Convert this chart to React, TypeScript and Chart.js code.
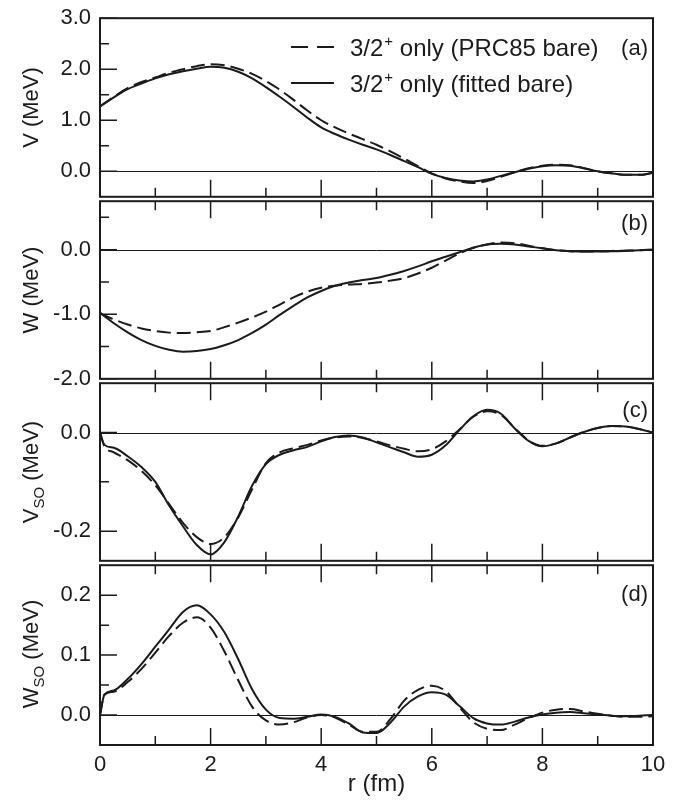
import React, { useEffect, useRef } from 'react';
import { Chart, registerables } from 'chart.js';

Chart.register(...registerables);

// ---------------- data ----------------
const R = [0, 0.08, 0.25, 0.5, 0.75, 1, 1.25, 1.5, 1.75, 2, 2.25, 2.5, 2.75, 3, 3.25, 3.5, 3.75, 4, 4.25, 4.5, 4.75, 5, 5.25, 5.5, 5.75, 6, 6.25, 6.5, 6.75, 7, 7.25, 7.5, 7.75, 8, 8.25, 8.5, 8.75, 9, 9.25, 9.5, 9.75, 10];

// (a) V
const V_PRC85 = [1.27, 1.33, 1.46, 1.63, 1.75, 1.84, 1.93, 2.0, 2.06, 2.1, 2.08, 2.01, 1.91, 1.77, 1.6, 1.4, 1.19, 1.0, 0.86, 0.74, 0.63, 0.52, 0.39, 0.25, 0.1, -0.04, -0.14, -0.2, -0.23, -0.19, -0.11, -0.02, 0.06, 0.11, 0.13, 0.12, 0.06, 0.0, -0.04, -0.07, -0.07, -0.03];
const V_FITTED = [1.27, 1.33, 1.45, 1.61, 1.72, 1.82, 1.9, 1.96, 2.01, 2.05, 2.03, 1.95, 1.82, 1.65, 1.46, 1.26, 1.05, 0.86, 0.73, 0.62, 0.52, 0.43, 0.32, 0.2, 0.08, -0.05, -0.13, -0.18, -0.2, -0.16, -0.09, -0.02, 0.05, 0.1, 0.12, 0.11, 0.06, 0.0, -0.04, -0.07, -0.07, -0.03];

// (b) W
const W_PRC85 = [-0.98, -1.02, -1.08, -1.16, -1.22, -1.26, -1.285, -1.29, -1.28, -1.26, -1.2, -1.13, -1.05, -0.96, -0.85, -0.74, -0.65, -0.59, -0.56, -0.54, -0.53, -0.51, -0.48, -0.44, -0.37, -0.28, -0.17, -0.06, 0.03, 0.08, 0.11, 0.1, 0.06, 0.02, -0.01, -0.025, -0.03, -0.025, -0.02, -0.015, -0.01, 0.0];
const W_FITTED = [-0.98, -1.03, -1.14, -1.28, -1.4, -1.49, -1.55, -1.58, -1.57, -1.54, -1.48, -1.4, -1.29, -1.16, -1.01, -0.87, -0.74, -0.64, -0.56, -0.51, -0.47, -0.44, -0.39, -0.33, -0.26, -0.18, -0.11, -0.04, 0.03, 0.08, 0.09, 0.08, 0.05, 0.02, -0.01, -0.025, -0.03, -0.03, -0.025, -0.02, -0.01, 0.0];

// (c) V_SO
const VSO_PRC85 = [0.0, -0.028, -0.04, -0.056, -0.078, -0.107, -0.145, -0.183, -0.212, -0.226, -0.212, -0.172, -0.115, -0.062, -0.04, -0.032, -0.025, -0.016, -0.01, -0.008, -0.011, -0.018, -0.026, -0.033, -0.038, -0.034, -0.018, 0.006, 0.032, 0.043, 0.036, 0.009, -0.016, -0.027, -0.022, -0.01, 0.001, 0.009, 0.013, 0.012, 0.007, 0.0];
const VSO_FITTED = [0.0, -0.025, -0.031, -0.048, -0.07, -0.1, -0.148, -0.19, -0.228, -0.247, -0.222, -0.17, -0.108, -0.064, -0.045, -0.036, -0.029, -0.018, -0.009, -0.006, -0.01, -0.02, -0.03, -0.04, -0.049, -0.045, -0.026, 0.005, 0.033, 0.046, 0.038, 0.008, -0.017, -0.028, -0.022, -0.01, 0.001, 0.009, 0.013, 0.012, 0.007, 0.0];

// (d) W_SO
const WSO_PRC85 = [0.0, 0.034, 0.039, 0.055, 0.077, 0.104, 0.132, 0.154, 0.163, 0.146, 0.106, 0.058, 0.014, -0.009, -0.016, -0.012, -0.004, 0.0, -0.004, -0.016, -0.028, -0.028, -0.007, 0.024, 0.042, 0.049, 0.04, 0.013, -0.012, -0.023, -0.025, -0.016, -0.005, 0.004, 0.009, 0.01, 0.006, 0.002, -0.001, -0.003, -0.003, -0.002];
const WSO_FITTED = [0.0, 0.034, 0.041, 0.06, 0.085, 0.114, 0.143, 0.172, 0.183, 0.168, 0.138, 0.093, 0.043, 0.009, -0.005, -0.006, -0.003, 0.001, -0.003, -0.014, -0.029, -0.03, -0.013, 0.014, 0.031, 0.038, 0.034, 0.015, -0.005, -0.014, -0.016, -0.011, -0.004, 0.001, 0.004, 0.005, 0.003, 0.001, -0.001, -0.002, -0.001, 0.0];

// ticks
const X_MAJOR = [0, 2, 4, 6, 8, 10];
const X_MINOR = [1, 3, 5, 7, 9];
const X_LABELS = ['0', '2', '4', '6', '8', '10'];

const V_MAJOR = [0, 1, 2, 3];
const V_MINOR = [0.5, 1.5, 2.5];
const V_LABELS = ['0.0', '1.0', '2.0', '3.0'];

const W_MAJOR = [-2, -1, 0];
const W_MINOR = [-1.5, -0.5, 0.5];
const W_LABELS = ['-2.0', '-1.0', '0.0'];

const VSO_MAJOR = [-0.2, 0];
const VSO_MINOR = [-0.1];
const VSO_LABELS = ['-0.2', '0.0'];

const WSO_MAJOR = [0, 0.1, 0.2];
const WSO_MINOR = [0.05, 0.15];
const WSO_LABELS = ['0.0', '0.1', '0.2'];

// legend text
const SERIES_PREFIX = '3/2';
const SERIES_SUP = '+';
const SERIES_NAMES = [' only (PRC85 bare)', ' only (fitted bare)'];
const X_TITLE = 'r (fm)';

// ---------------- style / layout ----------------
const INK = '#1b1b1b';
const FONT = '"Liberation Sans", Arial, Helvetica, sans-serif';
const FS = 22;
const LEG_FS = 24;
const XT_FS = 24;
const SUB_FS = 15;
const W = 691;
const H = 806;
const PLOT_LEFT = 100;
const PLOT_RIGHT = 653;
const PAD = 20;
const DASH = [14, 6];

type Part = { t: string; s: number; dy: number };

const PANELS = [
  { tag: '(a)', top: 16, bottom: 199, yMin: -0.5, yMax: 3.0, major: V_MAJOR, minor: V_MINOR, labels: V_LABELS,
    title: [{ t: 'V (MeV)', s: FS, dy: 0 }] as Part[], dashed: V_PRC85, solid: V_FITTED, topTicks: false, legend: true, tagY: 47, last: false },
  { tag: '(b)', top: 199, bottom: 381, yMin: -2.0, yMax: 0.75, major: W_MAJOR, minor: W_MINOR, labels: W_LABELS,
    title: [{ t: 'W (MeV)', s: FS, dy: 0 }] as Part[], dashed: W_PRC85, solid: W_FITTED, topTicks: true, legend: false, tagY: 222, last: false },
  { tag: '(c)', top: 381, bottom: 563, yMin: -0.26, yMax: 0.1, major: VSO_MAJOR, minor: VSO_MINOR, labels: VSO_LABELS,
    title: [{ t: 'V', s: FS, dy: 0 }, { t: 'SO', s: SUB_FS, dy: 6 }, { t: ' (MeV)', s: FS, dy: 0 }] as Part[], dashed: VSO_PRC85, solid: VSO_FITTED, topTicks: true, legend: false, tagY: 409, last: false },
  { tag: '(d)', top: 563, bottom: 745, yMin: -0.05, yMax: 0.25, major: WSO_MAJOR, minor: WSO_MINOR, labels: WSO_LABELS,
    title: [{ t: 'W', s: FS, dy: 0 }, { t: 'SO', s: SUB_FS, dy: 6 }, { t: ' (MeV)', s: FS, dy: 0 }] as Part[], dashed: WSO_PRC85, solid: WSO_FITTED, topTicks: true, legend: false, tagY: 593, last: true },
];

function drawParts(ctx: CanvasRenderingContext2D, parts: Part[], cx: number, cy: number) {
  ctx.textBaseline = 'alphabetic';
  ctx.textAlign = 'left';
  let total = 0;
  for (const p of parts) {
    ctx.font = `${p.s}px ${FONT}`;
    total += ctx.measureText(p.t).width;
  }
  let x = cx - total / 2;
  const base = cy + FS * 0.36;
  for (const p of parts) {
    ctx.font = `${p.s}px ${FONT}`;
    ctx.fillText(p.t, x, base + p.dy);
    x += ctx.measureText(p.t).width;
  }
}

function makePlugin(panel: any, canvasTop: number) {
  return {
    id: 'frame',
    beforeDatasetsDraw(chart: any) {
      const { ctx, chartArea } = chart;
      const ys = chart.scales.y;
      const py = Math.round(ys.getPixelForValue(0)) + 0.5;
      ctx.save();
      ctx.strokeStyle = INK;
      ctx.lineWidth = 1;
      ctx.beginPath();
      ctx.moveTo(chartArea.left, py);
      ctx.lineTo(chartArea.right, py);
      ctx.stroke();
      ctx.restore();
    },
    afterDatasetsDraw(chart: any) {
      const { ctx, chartArea } = chart;
      const { left, right, top, bottom } = chartArea;
      const xs = chart.scales.x;
      const ys = chart.scales.y;
      ctx.save();
      ctx.strokeStyle = INK;
      ctx.fillStyle = INK;
      ctx.lineWidth = 1.5;
      ctx.setLineDash([]);
      ctx.beginPath();
      for (const v of panel.major) {
        const p = ys.getPixelForValue(v);
        ctx.moveTo(left, p); ctx.lineTo(left + 17, p);
      }
      for (const v of panel.minor) {
        const p = ys.getPixelForValue(v);
        ctx.moveTo(left, p); ctx.lineTo(left + 9, p);
      }
      for (const v of X_MAJOR) {
        const p = xs.getPixelForValue(v);
        ctx.moveTo(p, bottom); ctx.lineTo(p, bottom - 17);
        if (panel.topTicks) { ctx.moveTo(p, top); ctx.lineTo(p, top + 17); }
      }
      for (const v of X_MINOR) {
        const p = xs.getPixelForValue(v);
        ctx.moveTo(p, bottom); ctx.lineTo(p, bottom - 9);
        if (panel.topTicks) { ctx.moveTo(p, top); ctx.lineTo(p, top + 9); }
      }
      ctx.stroke();
      ctx.lineWidth = 2;
      ctx.strokeRect(left, top, right - left, bottom - top);

      // y title, rotated
      ctx.save();
      ctx.translate(30, (panel.top + panel.bottom) / 2 - canvasTop);
      ctx.rotate(-Math.PI / 2);
      drawParts(ctx, panel.title, 0, 0);
      ctx.restore();

      // panel tag
      ctx.font = `${FS}px ${FONT}`;
      ctx.textAlign = 'right';
      ctx.textBaseline = 'alphabetic';
      ctx.fillText(panel.tag, 648, panel.tagY - canvasTop + FS * 0.36);

      // legend
      if (panel.legend) {
        const rows = [47, 83];
        rows.forEach((ry, i) => {
          const y = ry - canvasTop;
          ctx.lineWidth = 2;
          ctx.setLineDash(i === 0 ? [17, 9] : []);
          ctx.beginPath();
          ctx.moveTo(291, y); ctx.lineTo(334, y);
          ctx.stroke();
          ctx.setLineDash([]);
          ctx.textAlign = 'left';
          ctx.textBaseline = 'alphabetic';
          let x = 350;
          const base = y + LEG_FS * 0.36;
          ctx.font = `${LEG_FS}px ${FONT}`;
          ctx.fillText(SERIES_PREFIX, x, base);
          x += ctx.measureText(SERIES_PREFIX).width + 1;
          ctx.font = `${SUB_FS}px ${FONT}`;
          ctx.fillText(SERIES_SUP, x, base - 10);
          x += ctx.measureText(SERIES_SUP).width;
          ctx.font = `${LEG_FS}px ${FONT}`;
          ctx.fillText(SERIES_NAMES[i], x, base);
        });
      }
      ctx.restore();
    },
  };
}

function PanelChart({ panel }: { panel: any }) {
  const ref = useRef<HTMLCanvasElement | null>(null);
  const canvasTop = panel.top - PAD;
  const height = panel.last ? H - canvasTop : panel.bottom - panel.top + 2 * PAD;

  useEffect(() => {
    const canvas = ref.current;
    if (!canvas) return;
    const mk = (vals: number[]) => R.map((r, i) => ({ x: r, y: vals[i] }));
    const chart = new Chart(canvas, {
      type: 'line',
      data: {
        datasets: [
          { label: 'PRC85', data: mk(panel.dashed), borderColor: INK, borderWidth: 2, borderDash: DASH, pointRadius: 0, fill: false, cubicInterpolationMode: 'monotone' },
          { label: 'fitted', data: mk(panel.solid), borderColor: INK, borderWidth: 2, pointRadius: 0, fill: false, cubicInterpolationMode: 'monotone' },
        ],
      },
      options: {
        animation: false,
        responsive: false,
        devicePixelRatio: 1,
        events: [],
        layout: { padding: { top: PAD, bottom: panel.last ? 0 : PAD, left: 0, right: W - PLOT_RIGHT } },
        plugins: { legend: { display: false }, tooltip: { enabled: false } },
        scales: {
          x: panel.last
            ? {
                type: 'linear', min: 0, max: 10,
                afterBuildTicks: (s: any) => { s.ticks = X_MAJOR.map((v) => ({ value: v })); },
                afterFit: (s: any) => { s.height = H - 745; },
                ticks: { autoSkip: false, maxRotation: 0, padding: 7, color: INK, font: { family: FONT, size: FS }, callback: (_v: any, i: number) => X_LABELS[i] },
                grid: { display: false, drawTicks: false },
                border: { display: false },
                title: { display: true, text: X_TITLE, color: INK, font: { family: FONT, size: XT_FS }, padding: { top: 0, bottom: 7 } },
              }
            : { type: 'linear', min: 0, max: 10, display: false },
          y: {
            type: 'linear', min: panel.yMin, max: panel.yMax,
            afterBuildTicks: (s: any) => { s.ticks = panel.major.map((v: number) => ({ value: v })); },
            afterFit: (s: any) => { s.width = PLOT_LEFT; },
            ticks: { autoSkip: false, padding: 9, color: INK, font: { family: FONT, size: FS }, callback: (_v: any, i: number) => panel.labels[i] },
            grid: { display: false, drawTicks: false },
            border: { display: false },
          },
        },
      } as any,
      plugins: [makePlugin(panel, canvasTop)],
    });
    return () => chart.destroy();
  }, []);

  return (
    <canvas
      ref={ref}
      width={W}
      height={height}
      style={{ position: 'absolute', left: 0, top: canvasTop, width: W, height }}
    />
  );
}

export default function App() {
  return (
    <div style={{ position: 'absolute', left: 0, top: 0, width: W, height: H, overflow: 'hidden', background: '#fff' }}>
      {PANELS.map((p) => (
        <PanelChart key={p.tag} panel={p} />
      ))}
    </div>
  );
}
